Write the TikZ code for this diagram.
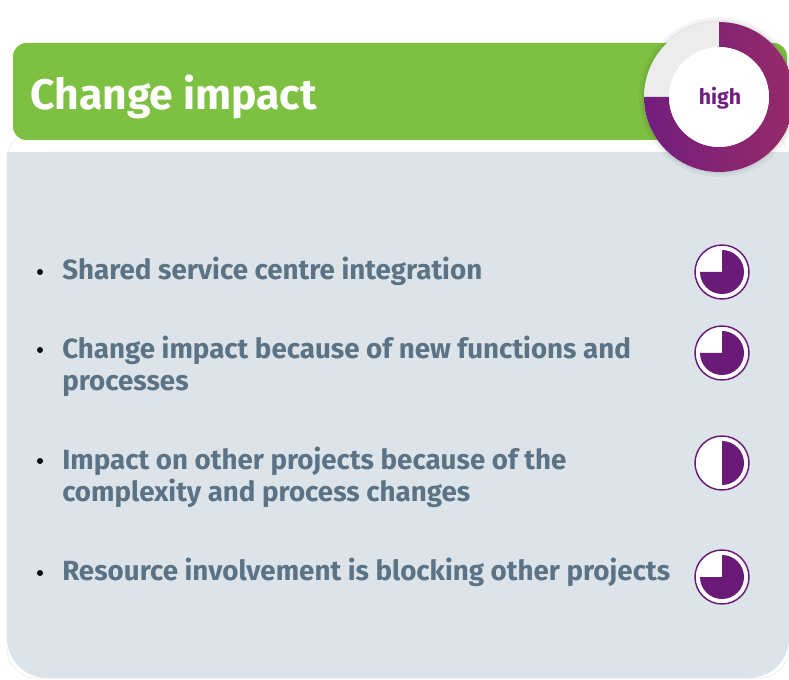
\documentclass[tikz,border=0pt]{standalone}
\usepackage{fontspec}
\setmainfont{Fira Sans}
\definecolor{panelgrey}{RGB}{220,228,234}
\definecolor{headgreen}{RGB}{125,192,66}
\definecolor{itemslate}{RGB}{91,115,132}
\definecolor{ballpurple}{RGB}{106,27,120}
\definecolor{gaugemagenta}{RGB}{150,42,104}
\definecolor{gaugepurple}{RGB}{114,30,126}
\definecolor{gaugegrey}{RGB}{236,236,236}
\begin{document}
\begin{tikzpicture}[
    x=0.75pt, y=0.75pt,
    item/.style={anchor=west, inner sep=0pt, align=left, text=itemslate, font=\fontsize{20.8}{24}\selectfont\bfseries},
    bullet/.style={circle, fill=black, inner sep=0pt, minimum size=4.5pt},
    ball/.style={fill=white, draw=ballpurple, line width=1.1pt}
]
\useasboundingbox (0,0) rectangle (789,679);
% card and panel
\fill[white, draw=black!4, line width=1pt, rounded corners=22] (7,1) rectangle (789,549);
\fill[panelgrey, rounded corners=30] (7,1) rectangle (789,527);
\fill[panelgrey] (7,400) rectangle (789,527);
% header bar
\fill[headgreen, rounded corners=10] (13,539) rectangle (787,636);
\node[anchor=base west, inner sep=0pt, text=white, font=\fontsize{32}{36}\selectfont\bfseries] (title) at (30,569) {Change impact};
% gauge
\fill[black, opacity=0.04] (719,582) circle[radius=80];
\fill[black, opacity=0.06] (719,582) circle[radius=77];
\fill[gaugegrey] (719,582) circle[radius=75];
\shade[left color=gaugepurple, right color=gaugemagenta] (719,582) ++(90:75) arc[start angle=90, end angle=-180, radius=75] -- ++(0:25) arc[start angle=-180, end angle=90, radius=50] -- cycle;
\fill[white] (719,582) circle[radius=50];
\node[text=gaugepurple, font=\fontsize{16}{18}\selectfont\bfseries] (level) at (720,581) {high};
% items
\node[bullet] (b1) at (40,407) {};
\node[item] (item1) at (62,408) {Shared service centre integration};
\node[bullet] (b2) at (40,329) {};
\node[item] (item2) at (62,313) {Change impact because of new functions and\\processes};
\node[bullet] (b3) at (40,218) {};
\node[item] (item3) at (62,202) {Impact on other projects because of the\\complexity and process changes};
\node[bullet] (b4) at (40,106) {};
\node[item] (item4) at (62,107) {Resource involvement is blocking other projects};
% harvey balls
\foreach \y/\e in {407/-180, 326/-180, 216/-90, 102/-180} {
  \draw[ball] (722,\y) circle[radius=27];
  \fill[ballpurple] (722,\y) -- ++(90:22) arc[start angle=90, end angle=\e, radius=22] -- cycle;
}
\end{tikzpicture}
\end{document}
